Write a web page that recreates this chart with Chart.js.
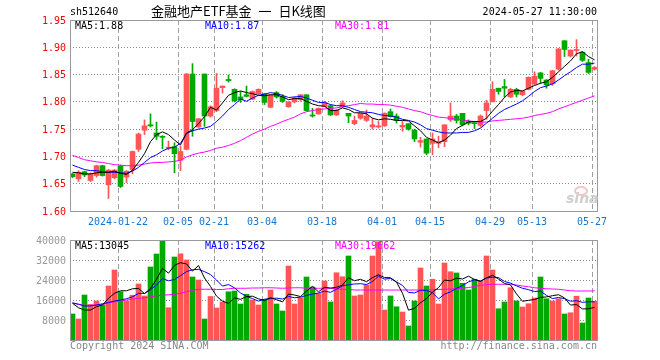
<!DOCTYPE html>
<html>
<head>
<meta charset="utf-8">
<title>金融地产ETF基金 日K线图</title>
<script src="https://cdn.jsdelivr.net/npm/chart.js@4.4.1/dist/chart.umd.min.js"></script>
<style>
    body { margin: 0; background: #fff; }
    #wrap { position: relative; width: 660px; height: 360px; overflow: hidden; background: #fff;
            font-family: "DejaVu Sans Mono", monospace; font-size: 10px; }
    #priceChart { position: absolute; left: 0; top: 0; }
    #volumeChart { position: absolute; left: 0; top: 226px; }
    .txt { position: absolute; white-space: nowrap; line-height: 12px; }
    .title { font-family: "Noto Sans CJK SC", sans-serif; font-size: 13px; line-height: 15px; word-spacing: 4px; }
    .right { text-align: right; }
    .logo-eye { position: absolute; left: 574px; top: 186px; width: 10px; height: 6px;
                border: 2px solid #f4c6c6; border-radius: 50%; }
    .logo-text { position: absolute; left: 566px; top: 191px; font: italic bold 14px "DejaVu Sans", sans-serif;
                 color: #cfcfcf; line-height: 14px; }
</style>
</head>
<body>
<div id="wrap">
    <canvas id="priceChart" width="660" height="226"></canvas>
    <canvas id="volumeChart" width="660" height="134"></canvas>

    <div class="txt" style="left:70px; top:6px;">sh512640</div>
    <div class="txt title" style="left:151px; top:3px;">金融地产ETF基金 一 日K线图</div>
    <div class="txt right" style="right:63px; top:6px;">2024-05-27 11:30:00</div>

    <div class="txt" style="left:75px; top:20px; color:#000;">MA5:1.88</div>
    <div class="txt" style="left:205px; top:20px; color:#00f;">MA10:1.87</div>
    <div class="txt" style="left:335px; top:20px; color:#f0f;">MA30:1.81</div>

    <div class="txt" style="left:75px; top:240px; color:#000;">MA5:13045</div>
    <div class="txt" style="left:205px; top:240px; color:#00f;">MA10:15262</div>
    <div class="txt" style="left:335px; top:240px; color:#f0f;">MA30:19662</div>

    <div class="txt" style="left:70px; top:340px; color:#888;">Copyright 2024 SINA.COM</div>
    <div class="txt right" style="right:63px; top:340px; color:#888;">http://finance.sina.com.cn</div>

    <div class="logo-eye"></div>
    <div class="logo-text">sina</div>
</div>

<script>
// Daily K-line for sh512640, 2024-01-10 .. 2024-05-27

const tradeDates = [
    '01-10', '01-11', '01-12', '01-15', '01-16', '01-17', '01-18', '01-19', '01-22', '01-23',
    '01-24', '01-25', '01-26', '01-29', '01-30', '01-31', '02-01', '02-02', '02-05', '02-06',
    '02-07', '02-08', '02-19', '02-20', '02-21', '02-22', '02-23', '02-26', '02-27', '02-28',
    '02-29', '03-01', '03-04', '03-05', '03-06', '03-07', '03-08', '03-11', '03-12', '03-13',
    '03-14', '03-15', '03-18', '03-19', '03-20', '03-21', '03-22', '03-25', '03-26', '03-27',
    '03-28', '03-29', '04-01', '04-02', '04-03', '04-08', '04-09', '04-10', '04-11', '04-12',
    '04-15', '04-16', '04-17', '04-18', '04-19', '04-22', '04-23', '04-24', '04-25', '04-26',
    '04-29', '04-30', '05-06', '05-07', '05-08', '05-09', '05-10', '05-13', '05-14', '05-15',
    '05-16', '05-17', '05-20', '05-21', '05-22', '05-23', '05-24', '05-27'
];

const tickLabels = ['2024-01-22', '02-05', '02-21', '03-04', '03-18', '04-01', '04-15', '04-29', '05-13', '05-27'];
const priceTicks = [1.60, 1.65, 1.70, 1.75, 1.80, 1.85, 1.90, 1.95];
const volumeTicks = [8000, 16000, 24000, 32000, 40000];

const openPrices = [
    1.668, 1.659, 1.672, 1.656, 1.665, 1.683, 1.648, 1.661, 1.682, 1.662,
    1.676, 1.713, 1.748, 1.758, 1.743, 1.737, 1.715, 1.718, 1.693, 1.713,
    1.851, 1.754, 1.851, 1.774, 1.784, 1.826, 1.841, 1.823, 1.809, 1.813,
    1.805, 1.815, 1.815, 1.790, 1.817, 1.810, 1.791, 1.800, 1.804, 1.813,
    1.776, 1.778, 1.791, 1.793, 1.776, 1.791, 1.779, 1.760, 1.770, 1.766,
    1.754, 1.754, 1.756, 1.782, 1.774, 1.754, 1.760, 1.748, 1.726, 1.732,
    1.724, 1.724, 1.727, 1.767, 1.774, 1.779, 1.764, 1.761, 1.757, 1.784,
    1.800, 1.825, 1.828, 1.809, 1.823, 1.813, 1.823, 1.833, 1.853, 1.840,
    1.833, 1.860, 1.912, 1.884, 1.894, 1.891, 1.872, 1.860
];
const highPrices = [
    1.669, 1.674, 1.673, 1.670, 1.684, 1.684, 1.676, 1.676, 1.684, 1.674,
    1.710, 1.743, 1.767, 1.778, 1.763, 1.738, 1.728, 1.725, 1.719, 1.852,
    1.870, 1.770, 1.851, 1.793, 1.852, 1.829, 1.849, 1.824, 1.819, 1.829,
    1.820, 1.824, 1.815, 1.813, 1.819, 1.813, 1.800, 1.809, 1.813, 1.813,
    1.788, 1.789, 1.801, 1.795, 1.786, 1.802, 1.779, 1.774, 1.779, 1.785,
    1.770, 1.764, 1.780, 1.787, 1.778, 1.764, 1.760, 1.750, 1.735, 1.732,
    1.743, 1.737, 1.758, 1.798, 1.777, 1.779, 1.767, 1.764, 1.776, 1.803,
    1.837, 1.825, 1.841, 1.825, 1.825, 1.820, 1.846, 1.855, 1.854, 1.841,
    1.858, 1.898, 1.912, 1.895, 1.914, 1.892, 1.878, 1.865
];
const lowPrices = [
    1.661, 1.654, 1.663, 1.654, 1.662, 1.664, 1.623, 1.659, 1.643, 1.652,
    1.668, 1.709, 1.740, 1.754, 1.731, 1.714, 1.712, 1.670, 1.674, 1.712,
    1.737, 1.752, 1.755, 1.772, 1.782, 1.816, 1.836, 1.800, 1.799, 1.809,
    1.804, 1.814, 1.795, 1.789, 1.807, 1.799, 1.790, 1.798, 1.801, 1.783,
    1.772, 1.777, 1.791, 1.775, 1.775, 1.790, 1.762, 1.758, 1.768, 1.764,
    1.750, 1.752, 1.755, 1.772, 1.761, 1.746, 1.748, 1.727, 1.717, 1.703,
    1.703, 1.716, 1.718, 1.764, 1.761, 1.756, 1.758, 1.751, 1.754, 1.768,
    1.800, 1.814, 1.809, 1.808, 1.809, 1.811, 1.822, 1.831, 1.834, 1.825,
    1.830, 1.858, 1.883, 1.882, 1.884, 1.874, 1.852, 1.858
];
const closePrices = [
    1.663, 1.671, 1.666, 1.668, 1.683, 1.665, 1.675, 1.675, 1.645, 1.673,
    1.709, 1.741, 1.756, 1.756, 1.737, 1.735, 1.717, 1.705, 1.709, 1.851,
    1.764, 1.769, 1.774, 1.791, 1.825, 1.829, 1.839, 1.802, 1.804, 1.810,
    1.819, 1.823, 1.799, 1.813, 1.809, 1.801, 1.800, 1.807, 1.813, 1.784,
    1.774, 1.788, 1.799, 1.776, 1.785, 1.798, 1.774, 1.766, 1.779, 1.774,
    1.758, 1.756, 1.779, 1.773, 1.766, 1.757, 1.750, 1.732, 1.729, 1.706,
    1.732, 1.727, 1.758, 1.774, 1.766, 1.758, 1.761, 1.760, 1.774, 1.798,
    1.823, 1.819, 1.825, 1.823, 1.814, 1.820, 1.845, 1.847, 1.843, 1.831,
    1.857, 1.897, 1.896, 1.895, 1.896, 1.876, 1.854, 1.863
];

const priceMa5 = [
    1.671, 1.670, 1.668, 1.668, 1.670, 1.671, 1.671, 1.673, 1.669, 1.667,
    1.675, 1.689, 1.705, 1.727, 1.740, 1.745, 1.740, 1.730, 1.721, 1.743,
    1.749, 1.760, 1.773, 1.790, 1.785, 1.798, 1.812, 1.817, 1.820, 1.817,
    1.815, 1.812, 1.811, 1.813, 1.813, 1.809, 1.804, 1.806, 1.806, 1.801,
    1.796, 1.793, 1.792, 1.784, 1.784, 1.789, 1.786, 1.780, 1.780, 1.778,
    1.770, 1.767, 1.769, 1.768, 1.766, 1.766, 1.765, 1.756, 1.747, 1.735,
    1.730, 1.725, 1.730, 1.739, 1.751, 1.757, 1.763, 1.764, 1.764, 1.770,
    1.783, 1.795, 1.808, 1.818, 1.821, 1.820, 1.825, 1.830, 1.834, 1.837,
    1.845, 1.855, 1.865, 1.875, 1.888, 1.892, 1.883, 1.877
];
const priceMa10 = [
    1.684, 1.680, 1.676, 1.674, 1.674, 1.672, 1.671, 1.671, 1.670, 1.669,
    1.673, 1.680, 1.689, 1.698, 1.703, 1.710, 1.715, 1.717, 1.724, 1.742,
    1.747, 1.750, 1.752, 1.755, 1.764, 1.774, 1.786, 1.795, 1.805, 1.801,
    1.807, 1.812, 1.814, 1.817, 1.815, 1.812, 1.808, 1.809, 1.810, 1.807,
    1.803, 1.799, 1.799, 1.795, 1.793, 1.793, 1.790, 1.786, 1.782, 1.781,
    1.780, 1.777, 1.775, 1.774, 1.772, 1.768, 1.766, 1.763, 1.758, 1.751,
    1.748, 1.745, 1.743, 1.743, 1.743, 1.744, 1.744, 1.747, 1.752, 1.761,
    1.770, 1.779, 1.786, 1.791, 1.796, 1.802, 1.810, 1.819, 1.826, 1.829,
    1.833, 1.840, 1.848, 1.855, 1.863, 1.869, 1.869, 1.871
];
const priceMa30 = [
    1.702, 1.698, 1.694, 1.692, 1.690, 1.689, 1.687, 1.685, 1.684, 1.683,
    1.683, 1.684, 1.686, 1.688, 1.689, 1.689, 1.690, 1.691, 1.693, 1.699,
    1.703, 1.706, 1.708, 1.711, 1.715, 1.717, 1.720, 1.724, 1.729, 1.735,
    1.741, 1.746, 1.750, 1.755, 1.759, 1.764, 1.768, 1.772, 1.778, 1.782,
    1.784, 1.786, 1.787, 1.788, 1.789, 1.791, 1.793, 1.795, 1.797, 1.796,
    1.796, 1.795, 1.795, 1.794, 1.792, 1.790, 1.787, 1.784, 1.782, 1.778,
    1.775, 1.772, 1.771, 1.770, 1.768, 1.767, 1.765, 1.764, 1.763, 1.763,
    1.765, 1.766, 1.767, 1.768, 1.769, 1.770, 1.772, 1.775, 1.777, 1.779,
    1.782, 1.787, 1.791, 1.795, 1.799, 1.803, 1.807, 1.811
];

const volumes = [
    10400, 8400, 18000, 14200, 15600, 14000, 21600, 28000, 19300, 15600,
    17900, 22400, 17600, 29200, 34400, 39600, 12900, 33200, 34500, 32000,
    25200, 24000, 8400, 17400, 12800, 15200, 19300, 19600, 14400, 18300,
    16000, 14000, 16200, 20000, 14400, 11600, 29600, 14400, 16900, 25200,
    21200, 18600, 23600, 15200, 26900, 25300, 33600, 17600, 18000, 22000,
    33600, 39300, 12000, 17600, 13300, 11200, 5600, 15600, 28800, 21600,
    24300, 14400, 30800, 27300, 26800, 22700, 20000, 24300, 23600, 33600,
    28000, 12500, 15200, 20900, 15600, 13200, 14500, 16800, 25200, 16500,
    15600, 16500, 10400, 10900, 17500, 6800, 16800, 15500
];
const volumeMa5 = [
    14700, 12900, 12000, 12000, 13320, 14040, 16680, 18680, 19700, 19700,
    20480, 20640, 18560, 20540, 24300, 28640, 26740, 29860, 30920, 30440,
    27560, 29780, 24820, 21400, 17560, 15560, 14620, 16860, 16260, 17360,
    17520, 16460, 15780, 16900, 16120, 15240, 18360, 18000, 17380, 19540,
    21460, 19260, 21100, 20760, 21100, 21920, 24920, 23720, 24280, 23300,
    24960, 26100, 24980, 24900, 23160, 18680, 11940, 12660, 14900, 16560,
    19180, 20940, 23980, 23680, 24720, 24400, 25520, 24220, 23480, 24840,
    25900, 24400, 22580, 22040, 18440, 15480, 15880, 16200, 17060, 17240,
    17720, 18120, 16840, 13980, 14180, 12420, 12480, 13045
];
const volumeMa10 = [
    14900, 14300, 13600, 13600, 14000, 14500, 15000, 15600, 16000, 16510,
    17260, 18660, 18620, 20120, 22000, 24560, 23690, 24210, 25730, 27370,
    28100, 28260, 27340, 26160, 24000, 21560, 22200, 20840, 18830, 17460,
    16540, 15540, 16320, 16580, 16740, 16380, 17410, 16890, 17140, 17830,
    18350, 18810, 19550, 19070, 20320, 21690, 22090, 22410, 22520, 22200,
    23440, 25510, 24350, 24590, 23230, 21820, 19020, 18820, 19900, 19860,
    18930, 16440, 18320, 19290, 20640, 21790, 23230, 24100, 23580, 24780,
    25150, 24960, 23400, 22760, 21640, 20690, 20140, 19390, 19550, 17840,
    16600, 17000, 16520, 15520, 15710, 15070, 15300, 15262
];
const volumeMa30 = [
    14700, 14300, 13900, 13900, 14000, 14100, 14900, 15300, 15600, 16000,
    16300, 16700, 16900, 17200, 17700, 17900, 18100, 18300, 18700, 19300,
    19900, 20300, 20300, 20300, 20200, 20200, 20500, 20700, 20700, 20700,
    20800, 20800, 20900, 20900, 20800, 20700, 20800, 20900, 20900, 20700,
    20700, 20700, 20700, 20700, 20500, 20300, 20200, 20000, 20000, 20000,
    20000, 20000, 20000, 20000, 20000, 20000, 20000, 20000, 20000, 20000,
    20100, 20200, 20300, 20400, 20600, 20700, 21000, 21400, 21900, 22100,
    22300, 22300, 22300, 22300, 22000, 21600, 21300, 20900, 20700, 20500,
    20400, 20300, 20000, 19700, 19600, 19600, 19600, 19662
];

const UP_COLOR = '#ff5555';
const DOWN_COLOR = '#00a800';

document.addEventListener('DOMContentLoaded', function() {
    Chart.defaults.font.family = '"DejaVu Sans Mono", monospace';
    Chart.defaults.font.size = 10;

    initializePriceChart();
    initializeVolumeChart();
});

// each trading day owns one 6px slot, marks sit in the slot's middle
function slotCenter(i) {
    return i + 2.5 / 6;
}

function tickIndex(label) {
    return tradeDates.indexOf(label.slice(-5));
}

function candleColors() {
    return closePrices.map((close, i) => close >= openPrices[i] ? UP_COLOR : DOWN_COLOR);
}

function linePoints(values) {
    return values.map((v, i) => ({ x: slotCenter(i), y: v }));
}

function maLine(label, values, color) {
    return {
        type: 'line',
        label: label,
        data: linePoints(values),
        borderColor: color,
        borderWidth: 1,
        pointRadius: 0,
        tension: 0,
        order: 0
    };
}

// frame round the plot area
const framePlugin = {
    id: 'frame',
    afterDraw(chart) {
        const a = chart.chartArea;
        const ctx = chart.ctx;
        ctx.save();
        ctx.strokeStyle = '#999';
        ctx.lineWidth = 1;
        ctx.strokeRect(Math.round(a.left) + 0.5, Math.round(a.top) + 0.5,
            Math.round(a.right - a.left) - 1, Math.round(a.bottom - a.top));
        ctx.restore();
    }
};

function dateAxis(showLabels, axisHeight) {
    const tickValues = tickLabels.map(tickIndex);
    return {
        type: 'linear',
        min: 0,
        max: tradeDates.length,
        offset: false,
        afterBuildTicks: axis => { axis.ticks = tickValues.map(v => ({ value: v })); },
        afterFit: axis => { axis.height = axisHeight; },
        grid: { color: '#a0a0a0', lineWidth: 1, drawTicks: false, offset: false },
        border: { display: false, dash: [5, 3] },
        ticks: {
            display: showLabels,
            autoSkip: false,
            maxRotation: 0,
            padding: 5,
            color: '#1577d0',
            callback: value => tickLabels[tickValues.indexOf(value)]
        }
    };
}

function valueAxis(min, max, tickValues, color, format) {
    return {
        min: min,
        max: max,
        afterBuildTicks: axis => { axis.ticks = tickValues.map(v => ({ value: v })); },
        afterFit: axis => { axis.width = 70; },
        grid: { color: '#888', lineWidth: 1, drawTicks: false },
        border: { display: false, dash: [1, 2] },
        ticks: { color: color, padding: 4, labelOffset: 1, callback: format }
    };
}

// Candles and price moving averages
function initializePriceChart() {
    const ctx = document.getElementById('priceChart');
    if (!ctx) return;
    const colors = candleColors();

    new Chart(ctx, {
        type: 'bar',
        data: {
            datasets: [
                maLine('MA5', priceMa5, '#000000'),
                maLine('MA10', priceMa10, '#0000ff'),
                maLine('MA30', priceMa30, '#ff00ff'),
                {
                    label: 'body',
                    data: openPrices.map((open, i) => ({ x: slotCenter(i), y: [open, closePrices[i]] })),
                    backgroundColor: colors,
                    barThickness: 5,
                    minBarLength: 1,
                    grouped: false,
                    order: 1
                },
                {
                    label: 'wick',
                    data: lowPrices.map((low, i) => ({ x: slotCenter(i), y: [low, highPrices[i]] })),
                    backgroundColor: colors,
                    barThickness: 1,
                    grouped: false,
                    order: 2
                }
            ]
        },
        options: {
            responsive: false,
            animation: false,
            layout: { padding: { left: 0, right: 62, top: 20, bottom: 0 } },
            plugins: { legend: { display: false }, tooltip: { enabled: false } },
            scales: {
                x: dateAxis(true, 15),
                y: valueAxis(1.60, 1.95, priceTicks, '#ff0000', v => v.toFixed(2))
            }
        },
        plugins: [framePlugin]
    });
}

// Volume bars and volume moving averages
function initializeVolumeChart() {
    const ctx = document.getElementById('volumeChart');
    if (!ctx) return;
    const colors = candleColors();

    new Chart(ctx, {
        type: 'bar',
        data: {
            datasets: [
                maLine('MA5', volumeMa5, '#000000'),
                maLine('MA10', volumeMa10, '#0000ff'),
                maLine('MA30', volumeMa30, '#ff00ff'),
                {
                    label: 'volume',
                    data: volumes.map((v, i) => ({ x: slotCenter(i), y: v })),
                    backgroundColor: colors,
                    barThickness: 5,
                    grouped: false,
                    order: 1
                }
            ]
        },
        options: {
            responsive: false,
            animation: false,
            layout: { padding: { left: 0, right: 62, top: 14, bottom: 20 } },
            plugins: { legend: { display: false }, tooltip: { enabled: false } },
            scales: {
                x: dateAxis(false, 0),
                y: valueAxis(0, 40000, volumeTicks, '#999999', v => String(v))
            }
        },
        plugins: [framePlugin]
    });
}
</script>
</body>
</html>
